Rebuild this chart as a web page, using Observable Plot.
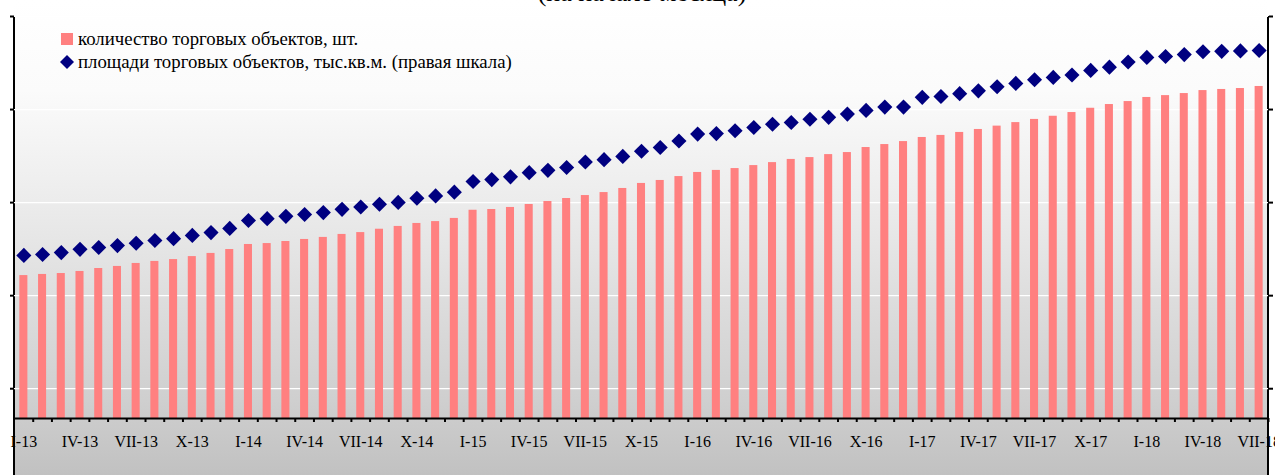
<!DOCTYPE html>
<html>
<head>
<meta charset="utf-8">
<script src="https://cdn.jsdelivr.net/npm/d3@7"></script>
<script src="https://cdn.jsdelivr.net/npm/@observablehq/plot@0.6"></script>
<style>
html, body { margin: 0; padding: 0; background: #fff; overflow: hidden; width: 1275px; height: 475px; }
#wrap { position: relative; width: 1275px; height: 475px; overflow: hidden; }
#bg { position: absolute; left: 14px; top: 0; width: 1254px; height: 475px;
  background: linear-gradient(to bottom, #ffffff 0px, #fbfbfb 90px, #ececec 200px, #dddddd 300px, #cfcfcf 400px, #c1c1c1 475px); }
#frame { position: absolute; left: 13px; top: 16px; width: 1252px; height: 459px;
  border-left: 2px solid #000; border-right: 2px solid #000; }
#chart { position: absolute; left: 0; top: 0; }
#overlay { position: absolute; left: 0; top: 0; }
#overlay text { font-family: "Liberation Serif", "Times New Roman", serif; fill: #000; }
</style>
</head>
<body>
<div id="wrap">
  <div id="bg"></div>
  <div id="frame"></div>
  <div id="chart"></div>
  <svg id="overlay" width="1275" height="90">
    <text x="642" y="1" text-anchor="middle" font-family="Liberation Serif" font-size="26">(на начало месяца)</text>
    <rect x="61" y="33" width="12" height="12" fill="#ff8080"></rect>
    <text x="78" y="45" font-family="Liberation Serif" font-size="18.8">количество торговых объектов, шт.</text>
    <path d="M67,55 L74,62 L67,69 L60,62 Z" fill="#000080"></path>
    <text x="78" y="68" font-family="Liberation Serif" font-size="18.8">площади торговых объектов, тыс.кв.м. (правая шкала)</text>
  </svg>
</div>
<script>
// Categories (month, start of month)
const romans = ["I","II","III","IV","V","VI","VII","VIII","IX","X","XI","XII"];
const years = ["13","14","15","16","17","18"];
const months = [];
for (const y of years) for (const r of romans) months.push(r + "-" + y);
months.length = 67; // I-13 … VII-18

// Tick labels on the x axis
const tickLabels = ["I-13","IV-13","VII-13","X-13","I-14","IV-14","VII-14","X-14",
  "I-15","IV-15","VII-15","X-15","I-16","IV-16","VII-16","X-16",
  "I-17","IV-17","VII-17","X-17","I-18","IV-18","VII-18"];

// Number of trade objects, units (left axis)
const counts = [1608,1614,1619,1630,1646,1657,1673,1684,1694,1710,1727,1748,
  1775,1780,1791,1802,1813,1829,1839,1857,1872,1888,1898,1915,
  1959,1963,1974,1990,2006,2022,2038,2054,2076,2103,2119,2140,
  2162,2173,2183,2199,2215,2232,2242,2258,2269,2296,2312,2328,
  2350,2361,2377,2393,2411,2430,2447,2464,2484,2507,2527,2543,
  2565,2575,2586,2602,2608,2613,2624];

// Trade floor area, thousand sq.m (right axis)
const areas = [486,488,492,499,503,507,512,518,522,529,535,544,
  561,565,570,574,578,585,590,596,600,609,614,622,
  645,649,655,664,669,675,687,692,699,710,718,732,
  747,748,754,761,768,772,779,783,790,798,805,805,
  826,828,834,840,849,856,864,869,874,884,891,902,
  912,914,918,924,925,926,927];

// Axis domains and tick values (tick labels are not visible in the original)
const leftDomain = [840, 3000];
const leftTicks = [1000, 1500, 2000, 2500, 3000];
const rightDomain = [135, 1000];

const toLeft = d3.scaleLinear(rightDomain, leftDomain);
const data = months.map((m, i) => ({month: m, count: counts[i], area: toLeft(areas[i])}));

const W = 1275, H = 475, mL = 14, mR = 7, mT = 16, mB = 57;
const step = (W - mL - mR) / months.length;

const chart = Plot.plot({
  width: W, height: H,
  marginLeft: mL, marginRight: mR, marginTop: mT, marginBottom: mB,
  style: {background: "transparent", fontFamily: "'Liberation Serif', serif", fontSize: "16px", color: "#000", overflow: "visible"},
  x: {type: "band", domain: months, paddingInner: 0.57, paddingOuter: 0.285, axis: null, label: null},
  y: {domain: leftDomain, clamp: true, axis: null, label: null},
  marks: [
    Plot.gridY(leftTicks, {stroke: "#ffffff", strokeOpacity: 1, strokeWidth: 1.2}),
    Plot.barY(data, {x: "month", y: "count", fill: "#ff8080"}),
    Plot.ruleY([leftDomain[0]], {stroke: "#000", strokeWidth: 2.2}),
    Plot.axisX(months, {tickSize: 4, tickFormat: () => "", dx: step / 2, strokeWidth: 2, stroke: "#000", label: null}),
    Plot.axisX(tickLabels, {tickSize: 0, tickPadding: 17, fontSize: 16, fill: "#000", label: null}),
    Plot.axisY(leftTicks, {anchor: "left", tickSize: 4, tickFormat: () => "", strokeWidth: 2, stroke: "#000", label: null}),
    Plot.axisY(leftTicks, {anchor: "right", tickSize: 4, tickFormat: () => "", strokeWidth: 2, stroke: "#000", label: null}),
    Plot.dot(data, {x: "month", y: "area", symbol: "diamond2", r: 6.8, fill: "#000080", stroke: null})
  ]
});
document.getElementById("chart").appendChild(chart);
</script>
</body>
</html>
